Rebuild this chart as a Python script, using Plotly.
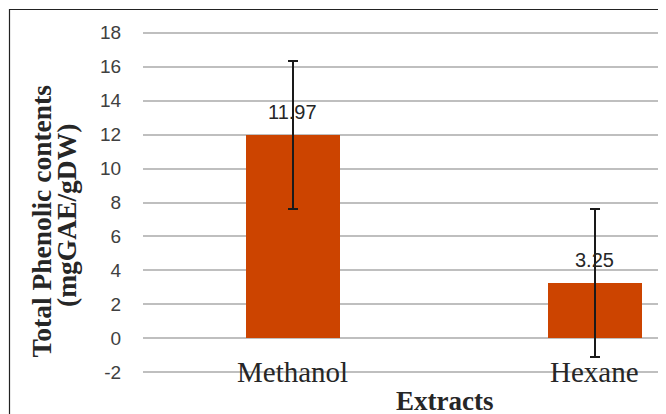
import plotly.graph_objects as go

categories = ["Methanol", "Hexane"]
values = [11.97, 3.25]
errors = [4.35, 4.35]
value_labels = ["11.97", "3.25"]
y_ticks = [-2, 0, 2, 4, 6, 8, 10, 12, 14, 16, 18]
y_tick_text = ["-2", "0", "2", "4", "6", "8", "10", "12", "14", "16", "18"]

OFF = 8  # page body margin
W, H = 666 - OFF, 414 - OFF
plot_l, plot_t = 143 - OFF, 31 - OFF
plot_r, plot_b = 666 - OFF, 374 - OFF
plot_w, plot_h = plot_r - plot_l, plot_b - plot_t


def px_x(px):
    return (px - OFF - plot_l) / plot_w


def px_y(py):
    return 1 - (py - OFF - plot_t) / plot_h


fig = go.Figure()
fig.add_trace(go.Bar(
    x=categories, y=values, width=0.313,
    marker=dict(color="#CC4400", line=dict(width=0)),
    error_y=dict(type="data", array=errors, visible=True,
                 color="#1a1a1a", thickness=2, width=5),
    showlegend=False, hoverinfo="skip",
))

annotations = []
for c, v, t in zip(categories, values, value_labels):
    annotations.append(dict(x=c, y=v, xref="x", yref="y", text=t, showarrow=False,
                            yanchor="middle", yshift=23.5,
                            font=dict(family="Liberation Sans", size=20, color="#262626")))
for c in categories:
    annotations.append(dict(x=c, y=-2, xref="x", yref="y", text=c, showarrow=False,
                            yanchor="middle", yshift=0.5,
                            font=dict(family="Liberation Serif", size=29, color="#262626")))

annotations.append(dict(x=px_x(444), y=px_y(400.5), xref="paper", yref="paper",
                        text="<b>Extracts</b>", showarrow=False,
                        xanchor="center", yanchor="middle",
                        font=dict(family="Liberation Serif", size=27, color="#262626")))
annotations.append(dict(x=px_x(40.5), y=px_y(221), xref="paper", yref="paper",
                        text="<b>Total Phenolic contents</b>", textangle=-90, showarrow=False,
                        xanchor="center", yanchor="middle",
                        font=dict(family="Liberation Serif", size=27.5, color="#262626")))
annotations.append(dict(x=px_x(66), y=px_y(216), xref="paper", yref="paper",
                        text="<b>(mgGAE/gDW)</b>", textangle=-90, showarrow=False,
                        xanchor="center", yanchor="middle",
                        font=dict(family="Liberation Serif", size=27.5, color="#262626")))

fig.update_layout(
    width=W, height=H,
    margin=dict(l=plot_l, r=W - plot_r, t=plot_t, b=H - plot_b, pad=0),
    paper_bgcolor="white", plot_bgcolor="white",
    bargap=0,
    xaxis=dict(type="category", range=[-0.497, 1.236], showticklabels=False,
               showgrid=False, zeroline=False, showline=False, ticks=""),
    yaxis=dict(range=[-2.1, 18.1], tickvals=y_ticks, ticktext=y_tick_text, showgrid=True,
               gridcolor="#bfbfbf", gridwidth=1.5, zeroline=False, showline=False,
               ticks="outside", ticklen=17, tickcolor="rgba(0,0,0,0)",
               tickfont=dict(family="Liberation Sans", size=19, color="#404040")),
    annotations=annotations,
)

fig.add_shape(type="line", xref="paper", yref="paper",
              x0=px_x(9), y0=px_y(9.5), x1=px_x(680), y1=px_y(9.5),
              line=dict(color="#222222", width=1.2))
fig.add_shape(type="line", xref="paper", yref="paper",
              x0=px_x(9.5), y0=px_y(9), x1=px_x(9.5), y1=px_y(430),
              line=dict(color="#222222", width=1.2))

fig.write_html("out.html")
